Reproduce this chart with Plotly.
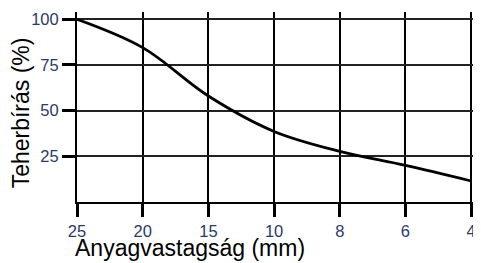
import plotly.graph_objects as go

# Data
thickness_labels = ["25", "20", "15", "10", "8", "6", "4"]   # mm, evenly spaced ticks
positions = [0, 1, 2, 3, 4, 5, 6]
load_capacity = [100, 84.5, 58, 38.6, 27.7, 20, 11.5]        # %
y_ticks = [25, 50, 75, 100]

FONT = "Arial, Liberation Sans, sans-serif"
TICK_COLOR = "#2b3a66"
TITLE_FONT = dict(size=23, color="black", family=FONT)

fig = go.Figure()
fig.add_trace(go.Scatter(
    x=positions, y=load_capacity, mode="lines",
    line=dict(color="black", width=2.8, shape="spline", smoothing=1.0),
    hoverinfo="skip", showlegend=False,
))

# page body has an 8px margin, so the figure is 8px smaller than the window
fig.update_layout(
    width=473, height=255,
    margin=dict(l=69, r=0, t=4, b=61, autoexpand=False),
    paper_bgcolor="white", plot_bgcolor="white",
    font=dict(family=FONT, color="black"),
    xaxis=dict(
        range=[0, 6.15], tickvals=positions, ticktext=thickness_labels,
        showgrid=True, gridcolor="black", gridwidth=2,
        showline=True, linecolor="black", linewidth=2,
        ticks="outside", ticklen=13, tickwidth=3, tickcolor="black",
        tickfont=dict(size=16.5, color=TICK_COLOR, family=FONT),
        zeroline=False, automargin=False,
    ),
    yaxis=dict(
        range=[0, 104], tickvals=y_ticks,
        showgrid=True, gridcolor="#222", gridwidth=1.5,
        showline=True, linecolor="black", linewidth=2,
        ticks="outside", ticklen=13, tickwidth=3, tickcolor="black",
        tickfont=dict(size=16.5, color=TICK_COLOR, family=FONT),
        zeroline=False, automargin=False,
    ),
    annotations=[
        dict(text="Anyagvastagság (mm)", xref="paper", yref="paper",
             x=0.28, y=0, xanchor="center", yanchor="middle", yshift=-46,
             showarrow=False, font=TITLE_FONT, borderpad=0),
        dict(text="Teherbírás (%)", xref="paper", yref="paper",
             x=-0.139, y=0.471, xanchor="center", yanchor="middle", textangle=-90,
             showarrow=False, font=TITLE_FONT, borderpad=0),
    ],
)

fig.write_html("out.html")
